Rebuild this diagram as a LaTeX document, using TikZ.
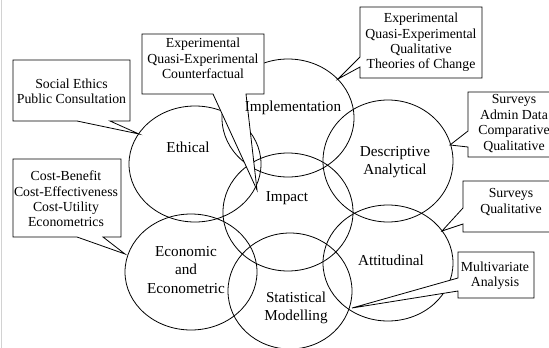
\documentclass[tikz,border=0pt]{standalone}
\usepackage{fontspec}
\setmainfont{Liberation Serif}
\usetikzlibrary{shapes.geometric}
\begin{document}
\begin{tikzpicture}[x=1pt,y=-1pt,
  ring/.style={ellipse,draw,line width=0.8pt,inner sep=0pt},
  lab/.style={font=\fontsize{15.2}{18.5}\selectfont,align=center,inner sep=0pt},
  ctext/.style={font=\fontsize{13.8}{15.4}\selectfont,align=center,inner sep=0pt},
  callout/.style={draw,fill=white,line width=0.8pt,line join=miter}]
\useasboundingbox (0,0) rectangle (549,348);
\draw[gray!35,line width=1.5pt] (1.5,0) -- (1.5,348);
% rings
\node[ring,minimum width=132pt,minimum height=116pt] (ethical) at (195,164) {};
\node[ring,minimum width=132pt,minimum height=118pt] (impl) at (288,118) {};
\node[ring,minimum width=130pt,minimum height=122pt] (desc) at (388,161) {};
\node[ring,minimum width=130pt,minimum height=118pt] (impact) at (288,212) {};
\node[ring,minimum width=132pt,minimum height=116pt] (econ) at (191,272) {};
\node[ring,minimum width=130pt,minimum height=116pt] (att) at (388,263) {};
\node[ring,minimum width=124pt,minimum height=116pt] (stat) at (290,291) {};
% callout tips
\coordinate (t1) at (139,134);
\coordinate (t2) at (257,190);
\coordinate (t3) at (338,79);
\coordinate (t4) at (450,145);
\coordinate (t5) at (125,254);
\coordinate (t6) at (442,231);
\coordinate (t7) at (352,308);
% callouts
\path[callout] (13,60) -- (130,60) -- (130,121) -- (110,121) -- (t1) -- (77,121) -- (13,121) -- cycle;
\path[callout] (142,34) -- (264,34) -- (264,94) -- (246,94) -- (t2) -- (213,94) -- (142,94) -- cycle;
\path[callout] (360,7) -- (482,7) -- (482,78) -- (360,78) -- (360,67) -- (t3) -- (360,57) -- cycle;
\path[callout] (468,92) -- (560,92) -- (560,157) -- (468,157) -- (468,147) -- (t4) -- (468,131) -- cycle;
\path[callout] (13,159) -- (121,159) -- (121,237) -- (103,237) -- (t5) -- (77,237) -- (13,237) -- cycle;
\path[callout] (463,181) -- (560,181) -- (560,232) -- (463,232) -- (463,224) -- (t6) -- (463,208) -- cycle;
\path[callout] (458,252) -- (534,252) -- (534,298) -- (458,298) -- (458,291) -- (t7) -- (458,278) -- cycle;
% ring labels
\node[lab] (lethical) at (188,147) {Ethical};
\node[lab] (limpl) at (293,108) {Implementation};
\node[lab] (ldesc) at (395,162) {Descriptive\\Analytical};
\node[lab] (limpact) at (287,198) {Impact};
\node[lab] (lecon) at (186,270) {Economic\\and\\Econometric};
\node[lab] (latt) at (391,260) {Attitudinal};
\node[lab] (lstat) at (296,308) {Statistical\\Modelling};
% callout texts
\node[ctext] (c1) at (71.5,91) {Social Ethics\\Public Consultation};
\node[ctext] (c2) at (203,58.5) {Experimental\\Quasi-Experimental\\Counterfactual};
\node[ctext] (c3) at (421,42.5) {Experimental\\Quasi-Experimental\\Qualitative\\Theories of Change};
\node[ctext] (c4) at (514,123.5) {Surveys\\Admin Data\\Comparative\\Qualitative};
\node[ctext] (c5) at (66,199) {Cost-Benefit\\Cost-Effectiveness\\Cost-Utility\\Econometrics};
\node[ctext] (c6) at (511,202) {Surveys\\Qualitative};
\node[ctext] (c7) at (495,275.5) {Multivariate\\Analysis};
\end{tikzpicture}
\end{document}
